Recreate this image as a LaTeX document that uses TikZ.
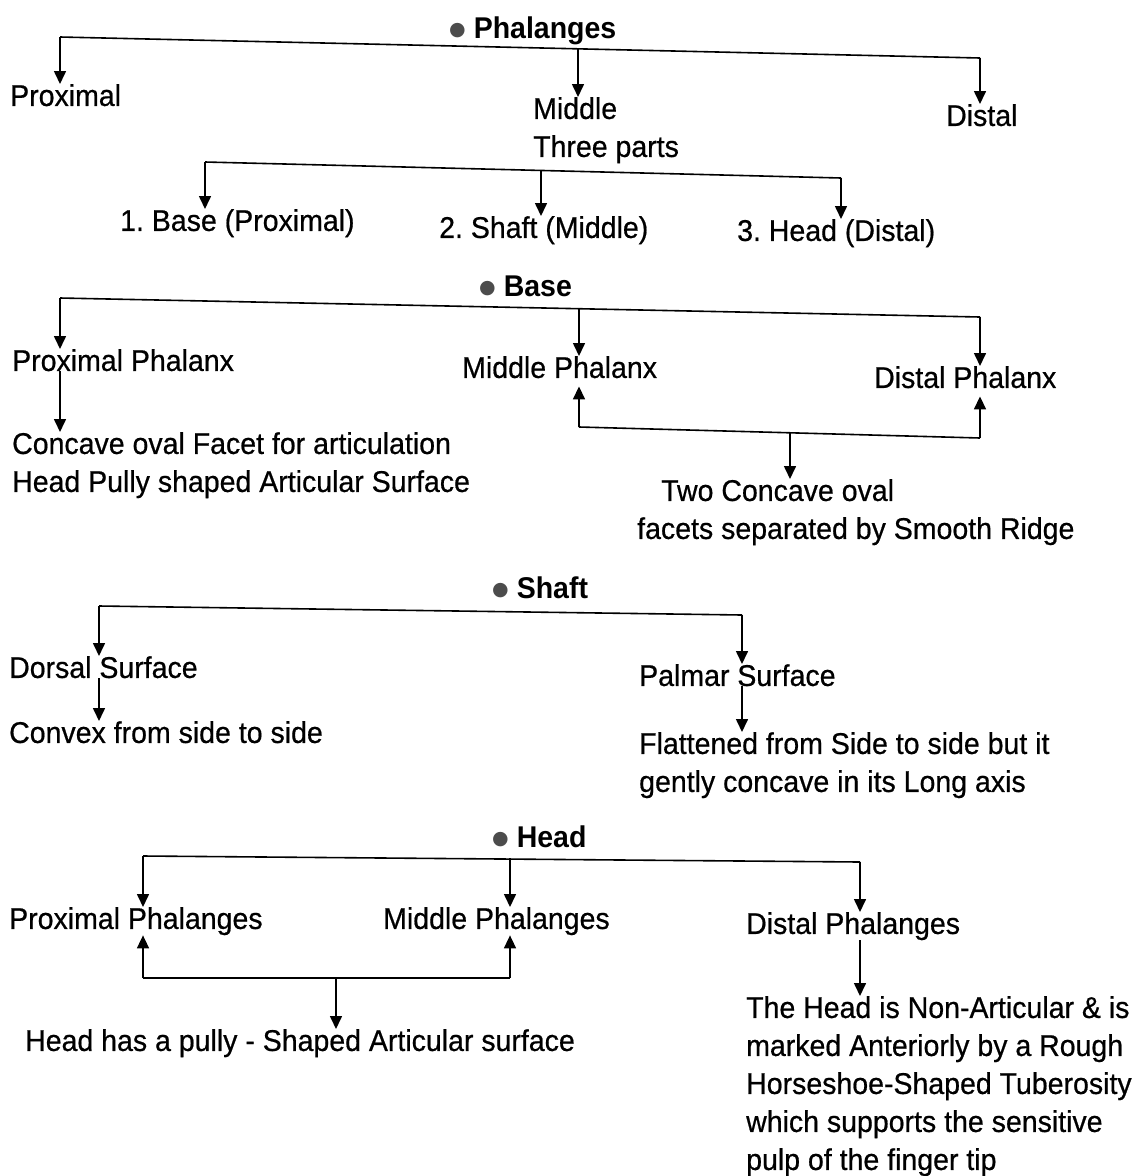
\documentclass[tikz,border=0pt]{standalone}
\usepackage{fontspec}
\setmainfont[FakeStretch=0.95, UprightFeatures={FakeBold=0.6}]{Liberation Sans}
\newfontfamily\dotfont{DejaVu Sans}
\usetikzlibrary{arrows.meta}
\tikzset{
  txt/.style={inner sep=0pt, anchor=north west, align=left, font=\fontsize{30}{38}\selectfont},
  hd/.style={txt, font=\fontsize{30}{38}\selectfont\bfseries},
  bar/.style={line width=1.6pt},
  arr/.style={bar, -{Triangle[length=13pt,width=12pt]}},
}
\newcommand{\hdot}{\raisebox{3pt}{\dotfont\fontsize{19}{19}\selectfont\textcolor{black!70}{●}}\hspace{8pt}}
\frenchspacing
\begin{document}
\begin{tikzpicture}[x=1pt, y=-1pt]
  \useasboundingbox (0,0) rectangle (1133,1176);
  % Phalanges: three kinds, middle one in three parts
  \node[hd] (phal) at (449,17) {\hdot Phalanges};
  \node[txt] (prox) at (10,84) {Proximal};
  \node[txt] (mid) at (533,97) {Middle\\Three parts};
  \node[txt] (dist) at (946,104) {Distal};
  \coordinate (p1) at (60,37);
  \coordinate (p2) at (578,49);
  \coordinate (p3) at (980,58);
  \draw[bar] (p1) -- (p3);
  \draw[arr] (p1) -- (p1 |- prox.north);
  \draw[arr] (p2) -- (p2 |- mid.north);
  \draw[arr] (p3) -- (p3 |- dist.north);
  \node[txt] (base1) at (120,209) {1. Base (Proximal)};
  \node[txt] (shaft1) at (439,216) {2. Shaft (Middle)};
  \node[txt] (head1) at (737,219) {3. Head (Distal)};
  \coordinate (q1) at (205,162);
  \coordinate (q2) at (541,170);
  \coordinate (q3) at (841,178);
  \draw[bar] (q1) -- (q3);
  \draw[arr] (q1) -- (q1 |- base1.north);
  \draw[arr] (q2) -- (q2 |- shaft1.north);
  \draw[arr] (q3) -- (q3 |- head1.north);

  % Base
  \node[hd] (base) at (479,276) {\hdot Base};
  \node[txt] (pp) at (12,349) {Proximal Phalanx};
  \node[txt] (mp) at (462,356) {Middle Phalanx};
  \node[txt] (dp) at (874,366) {Distal Phalanx};
  \coordinate (r1) at (60,298);
  \coordinate (r2) at (579,308);
  \coordinate (r3) at (980,317);
  \draw[bar] (r1) -- (r3);
  \draw[arr] (r1) -- (r1 |- pp.north);
  \draw[arr] (r2) -- (r2 |- mp.north);
  \draw[arr] (r3) -- (r3 |- dp.north);
  \node[txt] (conc) at (12,432) {Concave oval Facet for articulation\\Head Pully shaped Articular Surface};
  \draw[arr] (r1 |- pp.south) -- (r1 |- conc.north);
  \node[txt] (ridge) at (637,479) {\hspace*{24pt}Two Concave oval\\facets separated by Smooth Ridge};
  \coordinate (c1) at (579,427);
  \coordinate (c2) at (790,432);
  \coordinate (c3) at (980,438);
  \draw[bar] (c1) -- (c3);
  \draw[arr] (c1) -- ([yshift=-8pt]c1 |- mp.south);
  \draw[arr] (c3) -- ([yshift=-8pt]c3 |- dp.south);
  \draw[arr] (c2) -- (c2 |- ridge.north);

  % Shaft
  \node[hd] (shaft) at (492,577) {\hdot Shaft};
  \node[txt] (dors) at (9,656) {Dorsal Surface};
  \node[txt] (palm) at (639,664) {Palmar Surface};
  \coordinate (s1) at (99,606);
  \coordinate (s2) at (742,615);
  \draw[bar] (s1) -- (s2);
  \draw[arr] (s1) -- (s1 |- dors.north);
  \draw[arr] (s2) -- (s2 |- palm.north);
  \node[txt] (conv) at (9,721) {Convex from side to side};
  \node[txt] (flat) at (639,732) {Flattened from Side to side but it\\gently concave in its Long axis};
  \draw[arr] (s1 |- dors.south) -- (s1 |- conv.north);
  \draw[arr] (s2 |- palm.south) -- (s2 |- flat.north);

  % Head
  \node[hd] (head) at (492,826) {\hdot Head};
  \node[txt] (prph) at (9,907) {Proximal Phalanges};
  \node[txt] (mdph) at (383,907) {Middle Phalanges};
  \node[txt] (dsph) at (746,912) {Distal Phalanges};
  \coordinate (h1) at (143,856);
  \coordinate (h2) at (510,858);
  \coordinate (h3) at (860,862);
  \draw[bar] (h1) -- (h3);
  \draw[arr] (h1) -- (h1 |- prph.north);
  \draw[arr] (h2) -- (h2 |- mdph.north);
  \draw[arr] (h3) -- (h3 |- dsph.north);
  \node[txt] (pully) at (25,1029) {Head has a pully - Shaped Articular surface};
  \coordinate (k1) at (143,978);
  \coordinate (k2) at (336,978);
  \coordinate (k3) at (510,978);
  \draw[bar] (k1) -- (k3);
  \draw[arr] (k1) -- (k1 |- prph.south);
  \draw[arr] (k3) -- (k3 |- mdph.south);
  \draw[arr] (k2) -- (k2 |- pully.north);
  \node[txt] (nonart) at (746,996) {The Head is Non-Articular \& is\\marked Anteriorly by a Rough\\Horseshoe-Shaped Tuberosity\\which supports the sensitive\\pulp of the finger tip};
  \draw[arr] (h3 |- dsph.south) -- (h3 |- nonart.north);
\end{tikzpicture}
\end{document}
